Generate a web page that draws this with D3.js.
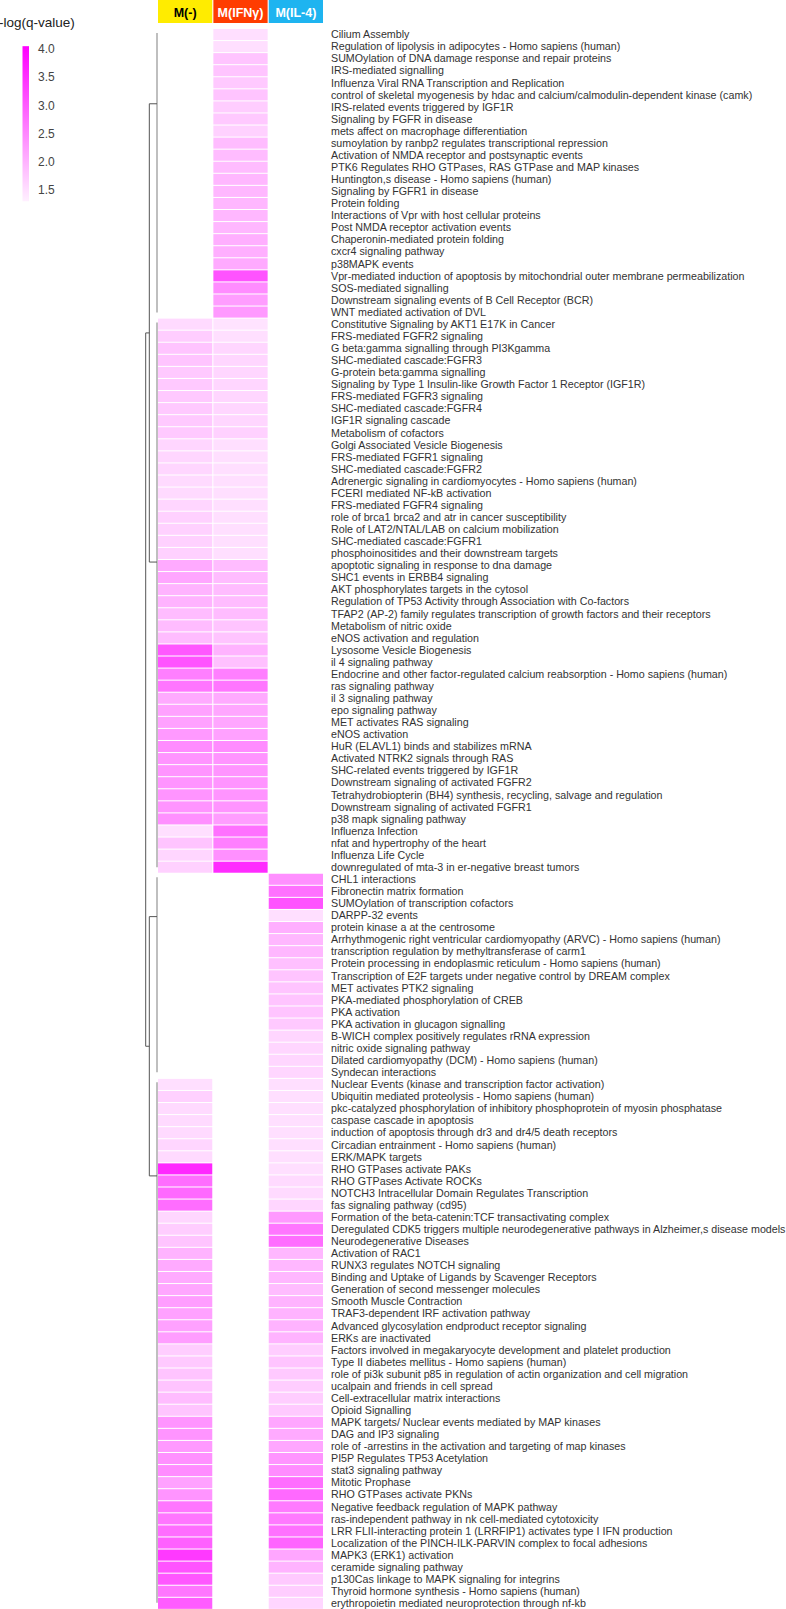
<!DOCTYPE html>
<html>
<head>
<meta charset="utf-8">
<script src="https://cdn.jsdelivr.net/npm/d3@7"></script>
<style>
  body { margin: 0; background: #fff; }
  svg { display: block; font-family: "Liberation Sans", Arial, sans-serif; }
</style>
</head>
<body>
<script>
// conditions / header
var conditions = ['M(-)', 'M(IFNγ)', 'M(IL-4)'];
var headerColors = ['#ffec00', '#ff3c00', '#1eb4f0'];
var headerText = ['#000', '#fff', '#fff'];

// pathway names, top to bottom
var pathways = [
  'Cilium Assembly',
  'Regulation of lipolysis in adipocytes - Homo sapiens (human)',
  'SUMOylation of DNA damage response and repair proteins',
  'IRS-mediated signalling',
  'Influenza Viral RNA Transcription and Replication',
  'control of skeletal myogenesis by hdac and calcium/calmodulin-dependent kinase (camk)',
  'IRS-related events triggered by IGF1R',
  'Signaling by FGFR in disease',
  'mets affect on macrophage differentiation',
  'sumoylation by ranbp2 regulates transcriptional repression',
  'Activation of NMDA receptor and postsynaptic events',
  'PTK6 Regulates RHO GTPases, RAS GTPase and MAP kinases',
  'Huntington,s disease - Homo sapiens (human)',
  'Signaling by FGFR1 in disease',
  'Protein folding',
  'Interactions of Vpr with host cellular proteins',
  'Post NMDA receptor activation events',
  'Chaperonin-mediated protein folding',
  'cxcr4 signaling pathway',
  'p38MAPK events',
  'Vpr-mediated induction of apoptosis by mitochondrial outer membrane permeabilization',
  'SOS-mediated signalling',
  'Downstream signaling events of B Cell Receptor (BCR)',
  'WNT mediated activation of DVL',
  'Constitutive Signaling by AKT1 E17K in Cancer',
  'FRS-mediated FGFR2 signaling',
  'G beta:gamma signalling through PI3Kgamma',
  'SHC-mediated cascade:FGFR3',
  'G-protein beta:gamma signalling',
  'Signaling by Type 1 Insulin-like Growth Factor 1 Receptor (IGF1R)',
  'FRS-mediated FGFR3 signaling',
  'SHC-mediated cascade:FGFR4',
  'IGF1R signaling cascade',
  'Metabolism of cofactors',
  'Golgi Associated Vesicle Biogenesis',
  'FRS-mediated FGFR1 signaling',
  'SHC-mediated cascade:FGFR2',
  'Adrenergic signaling in cardiomyocytes - Homo sapiens (human)',
  'FCERI mediated NF-kB activation',
  'FRS-mediated FGFR4 signaling',
  'role of brca1 brca2 and atr in cancer susceptibility',
  'Role of LAT2/NTAL/LAB on calcium mobilization',
  'SHC-mediated cascade:FGFR1',
  'phosphoinositides and their downstream targets',
  'apoptotic signaling in response to dna damage',
  'SHC1 events in ERBB4 signaling',
  'AKT phosphorylates targets in the cytosol',
  'Regulation of TP53 Activity through Association with Co-factors',
  'TFAP2 (AP-2) family regulates transcription of growth factors and their receptors',
  'Metabolism of nitric oxide',
  'eNOS activation and regulation',
  'Lysosome Vesicle Biogenesis',
  'il 4 signaling pathway',
  'Endocrine and other factor-regulated calcium reabsorption - Homo sapiens (human)',
  'ras signaling pathway',
  'il 3 signaling pathway',
  'epo signaling pathway',
  'MET activates RAS signaling',
  'eNOS activation',
  'HuR (ELAVL1) binds and stabilizes mRNA',
  'Activated NTRK2 signals through RAS',
  'SHC-related events triggered by IGF1R',
  'Downstream signaling of activated FGFR2',
  'Tetrahydrobiopterin (BH4) synthesis, recycling, salvage and regulation',
  'Downstream signaling of activated FGFR1',
  'p38 mapk signaling pathway',
  'Influenza Infection',
  'nfat and hypertrophy of the heart',
  'Influenza Life Cycle',
  'downregulated of mta-3 in er-negative breast tumors',
  'CHL1 interactions',
  'Fibronectin matrix formation',
  'SUMOylation of transcription cofactors',
  'DARPP-32 events',
  'protein kinase a at the centrosome',
  'Arrhythmogenic right ventricular cardiomyopathy (ARVC) - Homo sapiens (human)',
  'transcription regulation by methyltransferase of carm1',
  'Protein processing in endoplasmic reticulum - Homo sapiens (human)',
  'Transcription of E2F targets under negative control by DREAM complex',
  'MET activates PTK2 signaling',
  'PKA-mediated phosphorylation of CREB',
  'PKA activation',
  'PKA activation in glucagon signalling',
  'B-WICH complex positively regulates rRNA expression',
  'nitric oxide signaling pathway',
  'Dilated cardiomyopathy (DCM) - Homo sapiens (human)',
  'Syndecan interactions',
  'Nuclear Events (kinase and transcription factor activation)',
  'Ubiquitin mediated proteolysis - Homo sapiens (human)',
  'pkc-catalyzed phosphorylation of inhibitory phosphoprotein of myosin phosphatase',
  'caspase cascade in apoptosis',
  'induction of apoptosis through dr3 and dr4/5 death receptors',
  'Circadian entrainment - Homo sapiens (human)',
  'ERK/MAPK targets',
  'RHO GTPases activate PAKs',
  'RHO GTPases Activate ROCKs',
  'NOTCH3 Intracellular Domain Regulates Transcription',
  'fas signaling pathway (cd95)',
  'Formation of the beta-catenin:TCF transactivating complex',
  'Deregulated CDK5 triggers multiple neurodegenerative pathways in Alzheimer,s disease models',
  'Neurodegenerative Diseases',
  'Activation of RAC1',
  'RUNX3 regulates NOTCH signaling',
  'Binding and Uptake of Ligands by Scavenger Receptors',
  'Generation of second messenger molecules',
  'Smooth Muscle Contraction',
  'TRAF3-dependent IRF activation pathway',
  'Advanced glycosylation endproduct receptor signaling',
  'ERKs are inactivated',
  'Factors involved in megakaryocyte development and platelet production',
  'Type II diabetes mellitus - Homo sapiens (human)',
  'role of pi3k subunit p85 in regulation of actin organization and cell migration',
  'ucalpain and friends in cell spread',
  'Cell-extracellular matrix interactions',
  'Opioid Signalling',
  'MAPK targets/ Nuclear events mediated by MAP kinases',
  'DAG and IP3 signaling',
  'role of -arrestins in the activation and targeting of map kinases',
  'PI5P Regulates TP53 Acetylation',
  'stat3 signaling pathway',
  'Mitotic Prophase',
  'RHO GTPases activate PKNs',
  'Negative feedback regulation of MAPK pathway',
  'ras-independent pathway in nk cell-mediated cytotoxicity',
  'LRR FLII-interacting protein 1 (LRRFIP1) activates type I IFN production',
  'Localization of the PINCH-ILK-PARVIN complex to focal adhesions',
  'MAPK3 (ERK1) activation',
  'ceramide signaling pathway',
  'p130Cas linkage to MAPK signaling for integrins',
  'Thyroid hormone synthesis - Homo sapiens (human)',
  'erythropoietin mediated neuroprotection through nf-kb'
];

// -log(q-value) per condition, null = not significant (blank cell)
var valuesM0 = [
  null, null, null, null, null, null, null, null, null, null, null, null,
  null, null, null, null, null, null, null, null, null, null, null, null,
  1.55, 1.7, 1.8, 1.8, 1.75, 1.75, 1.75, 1.75, 1.75, 1.75,
  1.6, 1.6, 1.6, 1.55, 1.55, 1.6, 1.65, 1.65, 1.65, 1.65,
  2.1, 2.15, 2.0, 2.0, 1.9, 1.9, 1.9,
  3.05, 3.1, 2.6, 2.7, 2.1, 2.2, 2.2, 2.3, 2.45, 2.35, 2.35, 2.35, 2.35, 2.35, 2.4,
  1.5, 1.8, 1.6, 1.65,
  null, null, null, null, null, null, null, null, null, null, null, null, null, null, null, null, null,
  1.5, 1.65, 1.55, 1.55, 1.55, 1.6, 1.55,
  3.6, 2.8, 2.85, 2.8,
  1.6, 1.7, 1.8,
  2.0, 2.1, 2.1, 2.15, 2.25, 2.2, 2.2, 2.25,
  1.7, 1.75, 1.8, 1.8, 1.9, 1.8,
  2.35, 2.35, 2.3, 2.4, 2.45,
  2.2, 2.35, 2.7, 2.7, 2.8, 2.95,
  3.4, 3.1, 3.05, 2.7, 3.0
];
var valuesIFN = [
  1.5, 1.5, 1.8, 1.8, 1.75, 1.8, 1.7, 1.75, 1.65, 1.9, 1.9, 1.9,
  1.95, 1.95, 1.95, 1.95, 1.95, 2.05, 2.05, 2.1, 3.1, 2.45, 2.25, 2.3,
  1.45, 1.5, 1.6, 1.6, 1.6, 1.6, 1.6, 1.6, 1.6, 1.65,
  1.5, 1.5, 1.5, 1.5, 1.5, 1.5, 1.5, 1.5, 1.5, 1.5,
  1.9, 1.9, 1.9, 1.9, 1.9, 1.8, 1.8,
  2.0, 1.85, 2.6, 2.7, 2.1, 2.15, 2.15, 2.2, 2.45, 2.35, 2.35, 2.35, 2.35, 2.35, 2.25,
  2.75, 2.6, 2.4, 3.55,
  null, null, null, null, null, null, null, null, null, null, null, null, null, null, null, null, null,
  null, null, null, null, null, null, null, null, null, null, null,
  null, null, null, null, null, null, null, null, null, null, null, null, null, null, null, null, null,
  null, null, null, null, null, null, null, null, null, null, null, null, null, null, null, null
];
var valuesIL4 = [
  null, null, null, null, null, null, null, null, null, null, null, null,
  null, null, null, null, null, null, null, null, null, null, null, null,
  null, null, null, null, null, null, null, null, null, null,
  null, null, null, null, null, null, null, null, null, null,
  null, null, null, null, null, null, null,
  null, null, null, null, null, null, null, null, null, null, null, null, null, null, null,
  null, null, null, null,
  2.4, 2.75, 3.1, 1.5, 2.05, 1.95, 1.95, 1.85, 1.8, 1.8, 1.8, 1.8, 1.75, 1.6, 1.6, 1.6, 1.6,
  1.5, 1.5, 1.5, 1.5, 1.5, 1.5, 1.5,
  1.5, 1.55, 1.55, 1.6,
  2.3, 2.7, 2.8,
  1.95, 1.95, 1.95, 1.9, 2.0, 2.0, 2.0, 2.0,
  1.7, 1.8, 1.75, 1.7, 1.7, 1.75,
  2.15, 2.1, 2.15, 2.35, 2.45,
  2.8, 2.85, 2.65, 2.65, 2.75, 2.9,
  2.15, 2.0, 1.75, 1.7, 1.6
];

// legend ticks
var legendTicks = [1.5, 2.0, 2.5, 3.0, 3.5, 4.0];

// dendrogram: four clusters (row ranges), joined pairwise, then at the root
var clusterFirst = [0, 24, 70, 87];
var clusterLast = [23, 69, 86, 130];
var clusterAttach = [6.2, 44.2, 73.6, 95.1];   // row position where the branch leaves the cluster
var mergeHeight = [0.68, 0.68, 1.0];             // pair (1,2), pair (3,4), root

var width = 786, height = 1609;
var svg = d3.select('body').append('svg').attr('width', width).attr('height', height);

var step = 12.06, rowTop = 29;
var y = d3.scaleBand().domain(d3.range(pathways.length))
  .range([rowTop, rowTop + step * pathways.length]).paddingInner(0.085);
var rowY = d3.scaleLinear().domain([0, pathways.length]).range([rowTop, rowTop + step * pathways.length]);
var x = d3.scaleBand().domain(conditions).range([158, 323]).paddingInner(0.02);
var color = d3.scaleLinear().domain([1.3, 4.05]).range(['#fff0ff', '#ff00ff']).clamp(true);

// header
var header = svg.append('g');
header.selectAll('rect').data(conditions).enter().append('rect')
  .attr('x', function (d) { return x(d); })
  .attr('y', 0)
  .attr('width', x.bandwidth())
  .attr('height', 23)
  .attr('fill', function (d, i) { return headerColors[i]; });
header.selectAll('text').data(conditions).enter().append('text')
  .attr('x', function (d) { return x(d) + x.bandwidth() / 2; })
  .attr('y', 12)
  .attr('dy', '0.36em')
  .attr('text-anchor', 'middle')
  .attr('font-size', '12.5px')
  .attr('font-weight', 'bold')
  .attr('fill', function (d, i) { return headerText[i]; })
  .text(function (d) { return d; });

// cells
var series = [valuesM0, valuesIFN, valuesIL4];
var cells = [];
series.forEach(function (vals, ci) {
  vals.forEach(function (v, ri) {
    if (v != null) cells.push({col: conditions[ci], row: ri, value: v});
  });
});
svg.append('g').selectAll('rect').data(cells).enter().append('rect')
  .attr('x', function (d) { return x(d.col); })
  .attr('y', function (d) { return y(d.row); })
  .attr('width', x.bandwidth())
  .attr('height', y.bandwidth())
  .attr('fill', function (d) { return color(d.value); });

// row labels
svg.append('g').selectAll('text').data(pathways).enter().append('text')
  .attr('x', 331)
  .attr('y', function (d, i) { return y(i) + y.bandwidth() / 2; })
  .attr('dy', '0.35em')
  .attr('font-size', '10.7px')
  .attr('fill', '#333')
  .text(function (d) { return d; });

// dendrogram
var tx = d3.scaleLinear().domain([0, 1]).range([157, 145.7]);
var tree = svg.append('g').attr('fill', 'none');
clusterFirst.forEach(function (f, i) {
  tree.append('line')
    .attr('x1', tx(0)).attr('x2', tx(0))
    .attr('y1', rowY(f) + 4).attr('y2', rowY(clusterLast[i] + 1) - 6)
    .attr('stroke', '#aaa').attr('stroke-width', 1.5);
});
var joinY = [];
[[0, 1], [2, 3]].forEach(function (pair, k) {
  var h = mergeHeight[k];
  var y1 = rowY(clusterAttach[pair[0]]), y2 = rowY(clusterAttach[pair[1]]);
  tree.append('path')
    .attr('d', 'M' + tx(0) + ',' + y1 + 'H' + tx(h) + 'V' + y2 + 'H' + tx(0))
    .attr('stroke', '#555').attr('stroke-width', 1);
  joinY.push((y1 + y2) / 2);
});
tree.append('path')
  .attr('d', 'M' + tx(mergeHeight[0]) + ',' + joinY[0] + 'H' + tx(mergeHeight[2]) +
    'V' + joinY[1] + 'H' + tx(mergeHeight[1]))
  .attr('stroke', '#555').attr('stroke-width', 1);

// legend
svg.append('text')
  .attr('x', -1).attr('y', 27)
  .attr('font-size', '13.5px').attr('fill', '#222')
  .text('-log(q-value)');

var ly = d3.scaleLinear().domain([1.5, 4.0]).range([190, 49]);
var defs = svg.append('defs');
var grad = defs.append('linearGradient').attr('id', 'lg')
  .attr('x1', 0).attr('x2', 0).attr('y1', 1).attr('y2', 0);
d3.range(0, 1.01, 0.1).forEach(function (t) {
  var v = 1.3 + t * (4.05 - 1.3);
  grad.append('stop').attr('offset', t).attr('stop-color', color(v));
});
svg.append('rect')
  .attr('x', 22.5).attr('y', ly(4.05))
  .attr('width', 6.5).attr('height', ly(1.3) - ly(4.05))
  .attr('fill', 'url(#lg)');
svg.append('g').selectAll('text').data(legendTicks).enter().append('text')
  .attr('x', 38)
  .attr('y', function (d) { return ly(d); })
  .attr('dy', '0.35em')
  .attr('font-size', '12px')
  .attr('fill', '#444')
  .text(function (d) { return d.toFixed(1); });
</script>
</body>
</html>
